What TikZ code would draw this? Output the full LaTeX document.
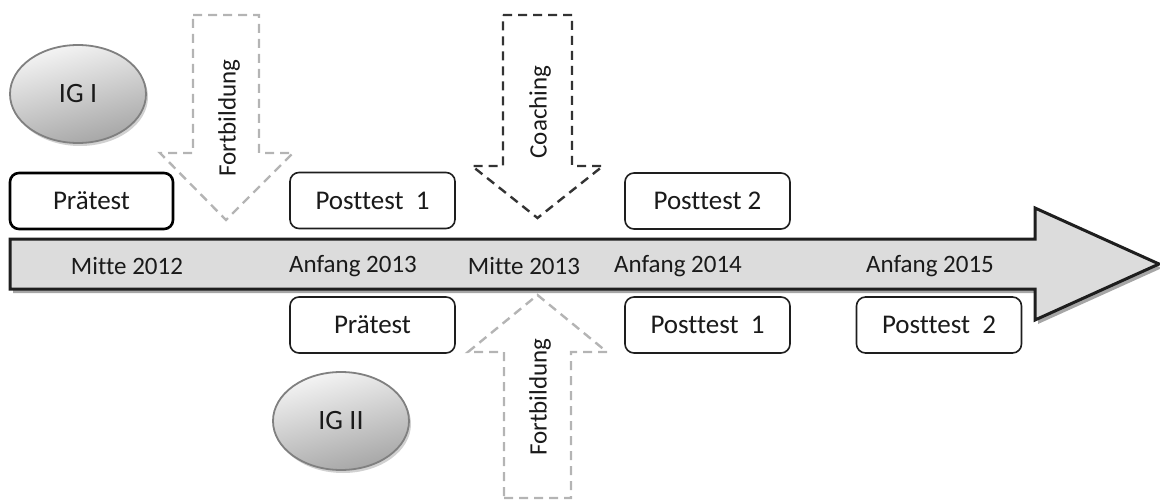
\documentclass[tikz,border=0pt]{standalone}
\usepackage{fontspec}
\setmainfont{Carlito}[Ligatures={NoCommon}]
\usetikzlibrary{shapes.geometric,shadows}
\definecolor{barfill}{HTML}{DCDCDC}
\definecolor{barline}{HTML}{1E1E1E}
\definecolor{lightdash}{HTML}{B4B4B4}
\definecolor{darkdash}{HTML}{333333}
\definecolor{ovalline}{HTML}{808080}
\definecolor{ink}{HTML}{1A1A1A}
\tikzset{
  txt/.style={font=\fontsize{25}{29}\selectfont, text=ink, inner sep=0pt},
  tbox/.style={draw=barline, line width=1.6pt, rounded corners=9pt, fill=white,
    minimum width=165pt, minimum height=56pt, text=ink,
    font=\fontsize{27}{32}\selectfont},
  tboxbold/.style={tbox, draw=black, line width=2.6pt},
  group/.style={ellipse, draw=ovalline, line width=1.8pt, minimum width=136pt,
    minimum height=98pt, top color=white!96!black, bottom color=black!35,
    shading angle=15, text=ink, font=\fontsize{28}{32}\selectfont,
    drop shadow={shadow xshift=2pt, shadow yshift=-3pt, fill=black!30, opacity=0.6}},
  lightarrow/.style={draw=lightdash, line width=2.4pt, dash pattern=on 9pt off 6pt},
  darkarrow/.style={draw=darkdash, line width=2.4pt, dash pattern=on 9pt off 6pt},
  vlabel/.style={txt, rotate=90}
}
\begin{document}
\begin{tikzpicture}[x=1pt,y=-1pt]
\useasboundingbox (0,0) rectangle (1160,500);

% timeline arrow
\fill[black!35] (13,243) -- (1038,243) -- (1038,212) -- (1162,268) -- (1038,324)
  -- (1038,293) -- (13,293) -- cycle;
\draw[barline, fill=barfill, line width=3pt, line join=miter]
  (10,239) -- (1035,239) -- (1035,208) -- (1159,264) -- (1035,320)
  -- (1035,289) -- (10,289) -- cycle;

% time points
\node[txt] (t1) at (127,266) {Mitte 2012};
\node[txt] (t2) at (353,266) {Anfang 2013};
\node[txt] (t3) at (524,266) {Mitte 2013};
\node[txt] (t4) at (678,266) {Anfang 2014};
\node[txt] (t5) at (930,266) {Anfang 2015};

% measurements of group I (above the timeline)
\node[tboxbold, minimum width=163pt] (pre1) at (91.5,201) {Prätest};
\node[tbox] (post11) at (372.5,200.5) {Posttest\ \ 1};
\node[tbox] (post12) at (707.5,201) {Posttest 2};

% measurements of group II (below the timeline)
\node[tbox] (pre2) at (372.5,325) {Prätest};
\node[tbox] (post21) at (707.5,325) {Posttest\ \ 1};
\node[tbox] (post22) at (939,325) {Posttest\ \ 2};

% groups
\node[group] (ig1) at (78,94) {IG I};
\node[group] (ig2) at (341,421) {IG II};

% interventions
\draw[lightarrow] (193,15) -- (259,15) -- (259,153) -- (293,153) -- (226,220)
  -- (160,153) -- (193,153) -- cycle;
\node[vlabel] (fb1) at (229,118) {Fortbildung};

\draw[darkarrow] (503,15) -- (572,15) -- (572,166) -- (603,166) -- (537.5,218)
  -- (472,166) -- (503,166) -- cycle;
\node[vlabel] (coach) at (540,112) {Coaching};

\draw[lightarrow] (504,498) -- (571,498) -- (571,352) -- (607,352) -- (537.5,295)
  -- (468,352) -- (504,352) -- cycle;
\node[vlabel] (fb2) at (540,397) {Fortbildung};
\end{tikzpicture}
\end{document}
